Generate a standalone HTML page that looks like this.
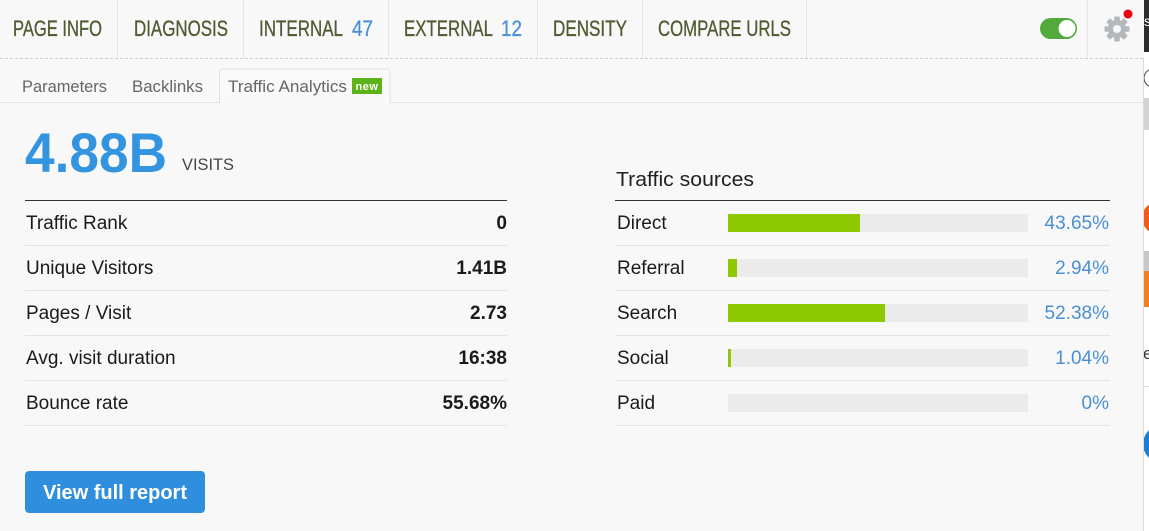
<!DOCTYPE html>
<html><head><meta charset="utf-8"><style>
html,body{margin:0;padding:0;background:#f8f8f8;}
svg{display:block;font-family:"Liberation Sans",Arial,sans-serif;}
</style></head><body>
<svg width="1149" height="531" viewBox="0 0 1149 531" xmlns="http://www.w3.org/2000/svg">
<defs><clipPath id="strip"><rect x="1144" y="0" width="5" height="531"/></clipPath></defs>
<rect x="0" y="0" width="1149" height="531" fill="#f8f8f8"/>
<!-- top nav separators -->
<g stroke="#e6e6e6" stroke-width="1">
<line x1="117.5" y1="0" x2="117.5" y2="58"/>
<line x1="243.5" y1="0" x2="243.5" y2="58"/>
<line x1="388.5" y1="0" x2="388.5" y2="58"/>
<line x1="537.5" y1="0" x2="537.5" y2="58"/>
<line x1="642.5" y1="0" x2="642.5" y2="58"/>
<line x1="806.5" y1="0" x2="806.5" y2="58"/>
<line x1="1087.5" y1="0" x2="1087.5" y2="58"/>
</g>
<line x1="0" y1="58.5" x2="1143" y2="58.5" stroke="#cfcfcf" stroke-dasharray="3,2"/>
<g font-size="22" fill="#4e5b31" stroke="#4e5b31" stroke-width="0.3">
<text x="13" y="36" textLength="89" lengthAdjust="spacingAndGlyphs">PAGE INFO</text>
<text x="134" y="36" textLength="94" lengthAdjust="spacingAndGlyphs">DIAGNOSIS</text>
<text x="259" y="36" textLength="84" lengthAdjust="spacingAndGlyphs">INTERNAL</text>
<text x="352" y="36" textLength="21" lengthAdjust="spacingAndGlyphs" fill="#4a90d9" stroke="#4a90d9">47</text>
<text x="404" y="36" textLength="89" lengthAdjust="spacingAndGlyphs">EXTERNAL</text>
<text x="501" y="36" textLength="21" lengthAdjust="spacingAndGlyphs" fill="#4a90d9" stroke="#4a90d9">12</text>
<text x="553" y="36" textLength="74" lengthAdjust="spacingAndGlyphs">DENSITY</text>
<text x="658" y="36" textLength="133" lengthAdjust="spacingAndGlyphs">COMPARE URLS</text>
</g>
<!-- toggle -->
<rect x="1040" y="18" width="37" height="21" rx="10.5" fill="#52aa3c"/>
<circle cx="1067" cy="28.5" r="8.5" fill="#ffffff"/>
<!-- gear -->
<g transform="translate(1117,29)" fill="#b3b8bc">
<circle r="9"/>
<rect x="-2.8" y="-12.5" width="5.6" height="25" rx="1"/>
<rect x="-2.8" y="-12.5" width="5.6" height="25" rx="1" transform="rotate(45)"/>
<rect x="-2.8" y="-12.5" width="5.6" height="25" rx="1" transform="rotate(90)"/>
<rect x="-2.8" y="-12.5" width="5.6" height="25" rx="1" transform="rotate(135)"/>
<circle r="4" fill="#f8f8f8"/>
</g>
<circle cx="1128" cy="14" r="4.5" fill="#e8000b"/>
<!-- sub tabs -->
<line x1="0" y1="102.5" x2="1143" y2="102.5" stroke="#e3e3e3"/>
<path d="M219.5 103 V72 a3 3 0 0 1 3 -3 H387 a3 3 0 0 1 3 3 V103" fill="#f9f9f9" stroke="#e0e0e0"/>
<g font-size="17" fill="#666">
<text x="22" y="92" textLength="85" lengthAdjust="spacingAndGlyphs">Parameters</text>
<text x="132" y="92" textLength="71" lengthAdjust="spacingAndGlyphs">Backlinks</text>
<text x="228" y="92" textLength="119" lengthAdjust="spacingAndGlyphs">Traffic Analytics</text>
</g>
<rect x="352" y="78" width="30" height="16" fill="#5cb31a"/>
<text x="367" y="90" font-size="11" font-weight="bold" fill="#fff" text-anchor="middle" letter-spacing="0.5">new</text>
<!-- big number -->
<text x="25" y="172" font-size="56" font-weight="bold" fill="#3394e0" textLength="142" lengthAdjust="spacingAndGlyphs">4.88B</text>
<text x="182" y="170" font-size="17" fill="#444" textLength="52" lengthAdjust="spacingAndGlyphs">VISITS</text>
<!-- left table -->
<line x1="25" y1="200.5" x2="507" y2="200.5" stroke="#333"/>
<g stroke="#e3e3e3">
<line x1="25" y1="245.5" x2="507" y2="245.5"/>
<line x1="25" y1="290.5" x2="507" y2="290.5"/>
<line x1="25" y1="335.5" x2="507" y2="335.5"/>
<line x1="25" y1="380.5" x2="507" y2="380.5"/>
<line x1="25" y1="425.5" x2="507" y2="425.5"/>
</g>
<g font-size="19" fill="#1a1a1a">
<text x="26" y="229">Traffic Rank</text>
<text x="26" y="274">Unique Visitors</text>
<text x="26" y="319">Pages / Visit</text>
<text x="26" y="364">Avg. visit duration</text>
<text x="26" y="409">Bounce rate</text>
</g>
<g font-size="19" font-weight="bold" fill="#1a1a1a" text-anchor="end">
<text x="507" y="229">0</text>
<text x="507" y="274">1.41B</text>
<text x="507" y="319">2.73</text>
<text x="507" y="364">16:38</text>
<text x="507" y="409">55.68%</text>
</g>
<!-- right table -->
<text x="616" y="186" font-size="20.5" fill="#222" textLength="138" lengthAdjust="spacingAndGlyphs">Traffic sources</text>
<line x1="615" y1="200.5" x2="1110" y2="200.5" stroke="#333"/>
<g stroke="#e3e3e3">
<line x1="615" y1="245.5" x2="1110" y2="245.5"/>
<line x1="615" y1="290.5" x2="1110" y2="290.5"/>
<line x1="615" y1="335.5" x2="1110" y2="335.5"/>
<line x1="615" y1="380.5" x2="1110" y2="380.5"/>
<line x1="615" y1="425.5" x2="1110" y2="425.5"/>
</g>
<g font-size="19" fill="#1a1a1a">
<text x="617" y="229">Direct</text>
<text x="617" y="274">Referral</text>
<text x="617" y="319">Search</text>
<text x="617" y="364">Social</text>
<text x="617" y="409">Paid</text>
</g>
<g fill="#ebebeb">
<rect x="728" y="214" width="300" height="18"/>
<rect x="728" y="259" width="300" height="18"/>
<rect x="728" y="304" width="300" height="18"/>
<rect x="728" y="349" width="300" height="18"/>
<rect x="728" y="394" width="300" height="18"/>
</g>
<g fill="#8dc800">
<rect x="728" y="214" width="132" height="18"/>
<rect x="728" y="259" width="9" height="18"/>
<rect x="728" y="304" width="157" height="18"/>
<rect x="728" y="349" width="3" height="18"/>
</g>
<g font-size="19" fill="#4a8fd6" text-anchor="end">
<text x="1109" y="229">43.65%</text>
<text x="1109" y="274">2.94%</text>
<text x="1109" y="319">52.38%</text>
<text x="1109" y="364">1.04%</text>
<text x="1109" y="409">0%</text>
</g>
<!-- button -->
<rect x="25" y="471" width="180" height="42" rx="4" fill="#2f8fde"/>
<text x="43" y="499" font-size="20" font-weight="bold" fill="#fff" textLength="144" lengthAdjust="spacingAndGlyphs">View full report</text>
<!-- right edge strip -->
<line x1="1143.5" y1="58" x2="1143.5" y2="531" stroke="#dcdcdc"/>
<g clip-path="url(#strip)">
<rect x="1144" y="0" width="5" height="531" fill="#ffffff"/>
<rect x="1144" y="0" width="5" height="52" fill="#2b2b2b"/>
<text x="1144" y="26" font-size="14" fill="#fff">s</text>
<circle cx="1153" cy="78" r="9" fill="none" stroke="#444" stroke-width="1"/>
<rect x="1144" y="98" width="5" height="32" fill="#d2d2d2"/>
<circle cx="1158" cy="218" r="16" fill="#f05a1a"/>
<rect x="1144" y="251" width="5" height="20" fill="#c8c8c8"/>
<rect x="1144" y="271" width="5" height="36" fill="#f08020"/>
<text x="1143" y="359" font-size="17" fill="#333">e</text>
<line x1="1144" y1="386.5" x2="1149" y2="386.5" stroke="#ddd"/>
<circle cx="1162" cy="444" r="19" fill="#1a7fd4"/>
</g>
</svg>
</body></html>
